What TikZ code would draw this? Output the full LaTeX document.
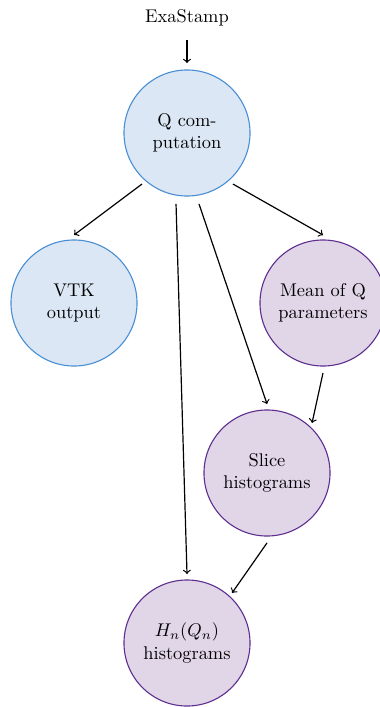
\documentclass[tikz,border=0pt]{standalone}
\usetikzlibrary{calc}
\definecolor{bfill}{HTML}{DBE7F4}
\definecolor{bdraw}{HTML}{4A8FD4}
\definecolor{pfill}{HTML}{E1D5E8}
\definecolor{pdraw}{HTML}{5E2F8F}
\begin{document}
\begin{tikzpicture}[x=0.5435pt,y=-0.5435pt,
  circ/.style={circle,minimum size=68.5pt,inner sep=0pt,outer sep=0pt,align=center,line width=0.6pt},
  bluecirc/.style={circ,draw=bdraw,fill=bfill},
  purplecirc/.style={circ,draw=pdraw,fill=pfill},
  arr/.style={->,line width=0.65pt}]
\useasboundingbox (0,0) rectangle (379,707);
\node (exa) at (187,18) {ExaStamp};
\node[bluecirc] (q) at (187,133) {Q com-\\putation};
\node[bluecirc] (vtk) at (74,303) {VTK\\output};
\node[purplecirc] (mean) at (323,303) {Mean of Q\\parameters};
\node[purplecirc] (slice) at (267,473) {Slice\\histograms};
\node[purplecirc] (hn) at (187,643) {$H_n(Q_n)$\\histograms};
\draw[arr] ($(exa)+(-90:12pt)$) -- ($(q)+(90:38pt)$);
\draw[arr] ($(q)+(228.6:36.96pt)$) -- ($(vtk)+(90:36.96pt)$);
\draw[arr] ($(q)+(-48:37.34pt)$) -- ($(mean)+(90:36.96pt)$);
\draw[arr] ($(q)+(-80.4:39.1pt)$) -- ($(slice)+(90:37.5pt)$);
\draw[arr] ($(q)+(-98.8:39.0pt)$) -- ($(hn)+(90:37.5pt)$);
\draw[arr] ($(mean)+(-90:38pt)$) -- ($(slice)+(48:36.6pt)$);
\draw[arr] ($(slice)+(-90:38pt)$) -- ($(hn)+(48:36.6pt)$);
\end{tikzpicture}
\end{document}
